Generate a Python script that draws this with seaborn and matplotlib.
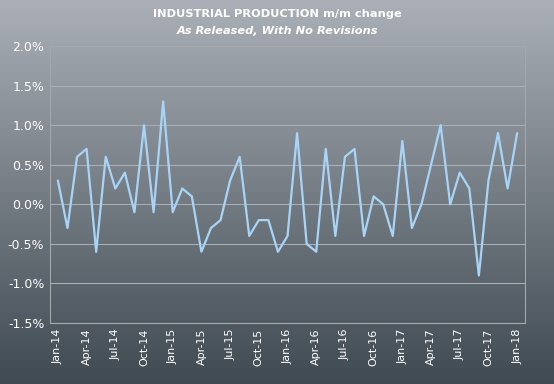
import numpy as np
import pandas as pd
import seaborn as sns
import matplotlib.pyplot as plt

# monthly m/m change, %, Jan-14 .. Jan-18
months = pd.date_range("2014-01-01", "2018-01-01", freq="MS")
values = [0.3, -0.3, 0.6, 0.7, -0.6, 0.6, 0.2, 0.4, -0.1, 1.0, -0.1, 1.3,
          -0.1, 0.2, 0.1, -0.6, -0.3, -0.2, 0.3, 0.6, -0.4, -0.2, -0.2, -0.6,
          -0.4, 0.9, -0.5, -0.6, 0.7, -0.4, 0.6, 0.7, -0.4, 0.1, 0.0, -0.4,
          0.8, -0.3, 0.0, 0.5, 1.0, 0.0, 0.4, 0.2, -0.9, 0.3, 0.9, 0.2,
          0.9]
y_ticks = [-1.5, -1.0, -0.5, 0.0, 0.5, 1.0, 1.5, 2.0]

df = pd.DataFrame({"idx": np.arange(len(values)), "value": values})
tick_pos = list(range(0, len(values), 3))
tick_labels = [months[i].strftime("%b-%y") for i in tick_pos]

sns.set_theme(style="white")
plt.rcParams["font.family"] = ["DejaVu Sans"]

fig = plt.figure(figsize=(5.54, 3.84), dpi=100)

# background gradient
bg = fig.add_axes([0, 0, 1, 1], zorder=-10)
grad = np.linspace(0, 1, 256).reshape(-1, 1)
top = np.array([0.67, 0.69, 0.72])
bottom = np.array([0.25, 0.29, 0.32])
img = top + (bottom - top) * grad[:, :, None]
bg.imshow(img, aspect="auto", extent=[0, 1, 0, 1])
bg.axis("off")

ax = fig.add_axes([0.090, 0.159, 0.858, 0.721])
ax.patch.set_alpha(0)

sns.lineplot(data=df, x="idx", y="value", ax=ax, color="#a8d5f7", linewidth=1.6)

ax.set_xlim(-0.84, len(values) - 1 + 0.84)
ax.set_ylim(-1.5, 2.0)
ax.set_yticks(y_ticks)
ax.set_yticklabels([f"{v:.1f}%" for v in y_ticks], color="white", fontsize=9)
ax.set_xticks(tick_pos)
ax.set_xticklabels(tick_labels, rotation=90, color="white", fontsize=8)
ax.tick_params(length=0, pad=4)
ax.set_xlabel("")
ax.set_ylabel("")
ax.grid(axis="y", color="#a9aeb4", linewidth=0.8)
for s in ax.spines.values():
    s.set_color("#a3a8ad")
    s.set_linewidth(0.8)

fig.text(0.5, 0.955, "INDUSTRIAL PRODUCTION m/m change", ha="center",
         color="white", fontsize=8.2, fontweight="bold")
fig.text(0.5, 0.912, "As Released, With No Revisions", ha="center",
         color="white", fontsize=8.2, fontweight="bold", style="italic")

fig.savefig("out.png", dpi=100)
